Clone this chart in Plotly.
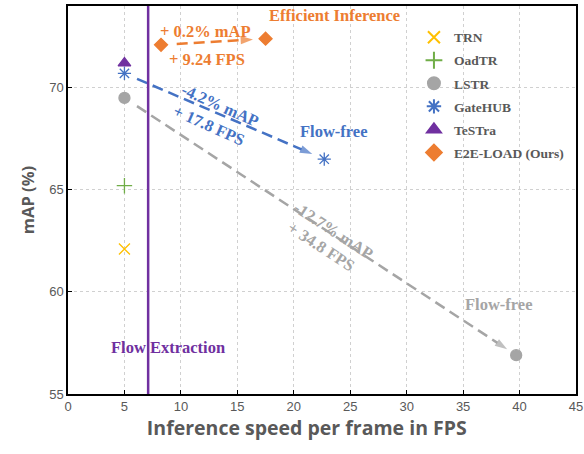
import plotly.graph_objects as go

# ---- data ----
methods = ["TRN", "OadTR", "LSTR", "GateHUB", "TeSTra", "E2E-LOAD (Ours)"]
fps = [[5.0], [5.0], [5.0, 39.7], [5.0, 22.7], [5.0], [8.24, 17.5]]
mAP = [[62.1], [65.2], [69.5, 56.9], [70.7, 66.5], [71.2], [72.1, 72.4]]
colors = ["#FFC000", "#70AD47", "#A5A5A5", "#4472C4", "#7030A0", "#ED7D31"]
symbols = ["x-thin-open", "cross-thin-open", "circle", "asterisk-open", "triangle-up", "diamond"]
sizes = [11, 11, 11, 11, 11, 10]
flow_extraction_fps = 7.1
x_ticks = [0, 5, 10, 15, 20, 25, 30, 35, 40, 45]
y_ticks = [55, 60, 65, 70]

SERIF = "Liberation Serif"
GRAY = "#595959"

fig = go.Figure()
for i, m in enumerate(methods):
    fig.add_trace(go.Scatter(
        x=fps[i], y=mAP[i], mode="markers", name=m, legendgroup=m,
        marker=dict(symbol=symbols[i], size=sizes[i], color=colors[i],
                    line=dict(color=colors[i], width=1.3)),
    ))

# arrows between flow / flow-free variants
arrow_cfg = {2: (0.032, 0.977), 3: (0.063, 0.94), 5: (0.15, 0.88)}
for idx, (f0, f1) in arrow_cfg.items():
    xa, xb = fps[idx]
    ya, yb = mAP[idx]
    sx, sy = xa + f0 * (xb - xa), ya + f0 * (yb - ya)
    ex, ey = xa + f1 * (xb - xa), ya + f1 * (yb - ya)
    fig.add_trace(go.Scatter(x=[sx, ex], y=[sy, ey], mode="lines+markers", showlegend=False,
                             hoverinfo="skip",
                             line=dict(color=colors[idx], width=2.5, dash="11px,6px"),
                             marker=dict(symbol=["circle", "arrow"], size=[0, 13],
                                         angleref="previous", color=colors[idx],
                                         line=dict(width=0))))

fig.add_shape(type="line", x0=flow_extraction_fps, x1=flow_extraction_fps, y0=0, y1=1,
              xref="x", yref="paper", line=dict(color="#7030A0", width=2.5))

def txt(x, y, s, color, size=16.5, angle=0):
    fig.add_annotation(x=x, y=y, xref="x", yref="y", text="<b>%s</b>" % s, showarrow=False,
                       textangle=angle, font=dict(family=SERIF, size=size, color=color))

txt(23.6, 73.55, "Efficient Inference", colors[5])
txt(12.2, 72.75, "+ 0.2% mAP", colors[5])
txt(12.3, 71.4, "+ 9.24 FPS", colors[5])
txt(13.5, 69.15, "-4.2% mAP", colors[3], angle=24)
txt(12.5, 68.15, "+ 17.8 FPS", colors[3], angle=24)
txt(23.6, 67.85, "Flow-free", colors[3])
txt(23.5, 63.0, "-12.7% mAP", "#A5A5A5", angle=33)
txt(22.4, 62.2, "+ 34.8 FPS", "#A5A5A5", angle=33)
txt(38.2, 59.4, "Flow-free", "#A5A5A5")
txt(8.9, 57.3, "Flow Extraction", "#7030A0")

axis_common = dict(showline=True, linecolor="black", linewidth=1.5, mirror=True,
                   showgrid=True, gridcolor="#D0D0D0", griddash="dot", gridwidth=1,
                   zeroline=False, ticks="inside", ticklen=4, tickcolor="black",
                   automargin=False,
                   tickfont=dict(family="Liberation Sans", size=13, color=GRAY))

fig.update_xaxes(range=[0, 45], tickvals=x_ticks, **axis_common,
                 title=dict(text="<b>Inference speed per frame in FPS</b>" + "&nbsp;" * 6,
                            font=dict(family="Open Sans", size=19.5, color=GRAY), standoff=6))
fig.update_yaxes(range=[55, 74.0], tickvals=y_ticks, **axis_common,
                 title=dict(text="<b>mAP (%)</b>",
                            font=dict(family="Open Sans", size=16.5, color=GRAY), standoff=10))

fig.update_layout(
    width=584, height=454,
    margin=dict(l=68, r=8, t=6, b=60),
    plot_bgcolor="white", paper_bgcolor="white",
    showlegend=True,
    legend=dict(x=0.681, y=0.959, xanchor="left", yanchor="top",
                bgcolor="rgba(0,0,0,0)", traceorder="grouped", tracegroupgap=2.5,
                itemwidth=30, itemsizing="constant",
                font=dict(family=SERIF, size=13.5, color=GRAY, weight="bold")),
)

fig.write_html("out.html", config={"displayModeBar": False},
               post_script="document.body.style.margin='0';"
                           "document.body.style.overflow='hidden';"
                           "document.documentElement.style.overflow='hidden';")
